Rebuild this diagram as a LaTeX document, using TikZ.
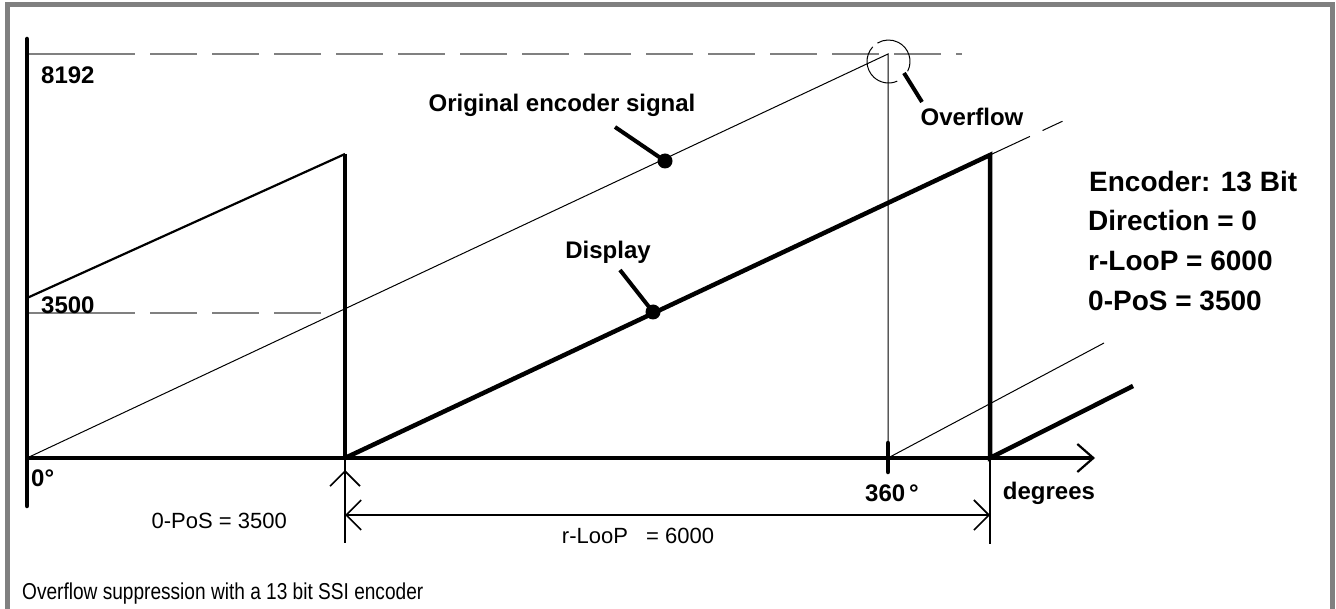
\documentclass[tikz,border=0pt]{standalone}
\usepackage{fontspec}
\setmainfont{Liberation Sans}
\newfontfamily\capfont[FakeStretch=0.83]{Liberation Sans}
\usetikzlibrary{arrows.meta}
\definecolor{refgray}{HTML}{808080}
\tikzset{dimbarb/.tip={Straight Barb[length=15pt,width=30pt]}}
\begin{document}
\begin{tikzpicture}[x=1pt,y=-1pt,
  axis/.style={line width=4.5pt},
  heavy/.style={line width=4.5pt, line join=miter},
  thinline/.style={line width=1pt},
  medium/.style={line width=2.2pt},
  dimline/.style={line width=1.6pt},
  refdash/.style={draw=refgray, line width=1.8pt,
    dash pattern=on 106pt off 15pt on 47pt off 15pt on 47pt off 15pt on 47pt off 15pt
      on 47pt off 15pt on 47pt off 15pt on 47pt off 15pt on 47pt off 15pt
      on 47pt off 15pt on 47pt off 15pt on 47pt off 15pt on 47pt off 15pt
      on 47pt off 15pt on 47pt off 15pt on 47pt off 15pt on 47pt off 15pt},
  lbl/.style={font=\fontsize{24}{28}\selectfont\bfseries, inner sep=0pt},
  biglbl/.style={font=\fontsize{28}{32}\selectfont\bfseries, inner sep=0pt, anchor=base west},
  dimlbl/.style={font=\fontsize{22}{26}\selectfont, inner sep=0pt},
  caplbl/.style={font=\capfont\fontsize{23}{27}\selectfont, inner sep=0pt},
  dot/.style={circle, fill=black, minimum size=15pt, inner sep=0pt},
  leader/.style={line width=4pt}
]
\useasboundingbox (0,0) rectangle (1336,609);
\fill[white] (0,0) rectangle (1336,609);
% frame
\draw[refgray, line width=5pt] (7,4.5) rectangle (1332.5,640);

% coordinates
\coordinate (O) at (27,458);
\coordinate (Ytop) at (27,39);
\coordinate (Ybot) at (27,506);
\coordinate (Xend) at (1095,458);
\coordinate (A1) at (27,298);
\coordinate (A2) at (345,154);
\coordinate (P0) at (345,458);
\coordinate (Ov) at (888,54);
\coordinate (T360) at (888,458);
\coordinate (D1) at (990,155);
\coordinate (P1) at (990,458);
\coordinate (D2) at (1133,386);
\coordinate (Dext) at (1063,121);
\coordinate (S2) at (1104,343);
\coordinate (h8a) at (29,54);
\coordinate (h8b) at (962,54);
\coordinate (h35a) at (29,313);
\coordinate (h35b) at (335,313);
\coordinate (OvC) at (888.5,61.5);

% reference dashed lines
\draw[refdash] (h8a) -- (h8b);
\draw[refdash] (h35a) -- (h35b);

% original encoder signal (thin)
\draw[thinline] (O) -- (Ov) -- (T360);
\draw[thinline] (T360) -- (S2);
\draw[thinline, dash pattern=on 44pt off 14pt on 22pt off 100pt] (D1) -- (Dext);

% overflow circle
\draw[thinline] (OvC) ++(-137:21.5) arc[start angle=-137, end angle=-294, radius=21.5];
\draw[thinline] (OvC) ++(-333:21.5) arc[start angle=-333, end angle=-481, radius=21.5];

% display (thick)
\draw[medium] (A1) -- (A2);
\draw[heavy] (A2) -- (P0);
\draw[heavy] (P0) -- (D1) -- (P1) -- (D2);

% axes
\draw[axis, line cap=round] (Ybot) -- (Ytop);
\draw[axis, -{Straight Barb[length=16pt,width=28pt,line width=2.2pt]}] (O) -- (Xend);
\draw[heavy, line cap=round] (888,443) -- (888,472);

% dimensions
\coordinate (E0) at (345,543);
\coordinate (E1) at (990,544);
\coordinate (U0) at (345,500);
\coordinate (U1) at (345,470);
\coordinate (M0) at (345,515);
\coordinate (M1) at (990,515);
\draw[dimline] (P0) -- (E0);
\draw[dimline] (P1) -- (E1);
\draw[dimline, -{dimbarb}] (U0) -- (U1);
\draw[dimline, {dimbarb}-{dimbarb}] (M0) -- (M1);

% dots and leaders
\node[dot] (dorig) at (665,161) {};
\node[dot] (ddisp) at (653,312) {};
\coordinate (Lorig) at (615,127);
\coordinate (Ldisp) at (620,270);
\coordinate (Lov0) at (904,73);
\coordinate (Lov1) at (922,102);
\draw[leader] (Lorig) -- (dorig.center);
\draw[leader] (Ldisp) -- (ddisp.center);
\draw[leader] (Lov0) -- (Lov1);

% labels
\node[lbl, anchor=west] (n8192) at (41,75) {8192};
\node[lbl, anchor=west] (n3500) at (41,305) {3500};
\node[lbl, anchor=west] (n0) at (31,478) {0°};
\node[lbl] (n360) at (892,493) {360\,°};
\node[lbl] (ndeg) at (1049,493) {degrees};
\node[lbl] (norig) at (562,105) {Original encoder signal};
\node[lbl] (ndisp) at (608,252) {Display};
\node[lbl] (nover) at (972,117) {Overflow};

\node[biglbl] (i1) at (1089,192) {Encoder: 13 Bit};
\node[biglbl] (i2) at (1088,231) {Direction = 0};
\node[biglbl] (i3) at (1088,271) {r-LooP = 6000};
\node[biglbl] (i4) at (1088,311) {0-PoS = 3500};

\node[dimlbl, anchor=east] (nzp) at (287,521) {0-PoS = 3500};
\node[dimlbl] (nrl) at (638,536) {r-LooP\hspace{12pt} = 6000};

\node[caplbl, anchor=west] (cap) at (22,594) {Overflow suppression with a 13 bit SSI encoder};
\end{tikzpicture}
\end{document}
